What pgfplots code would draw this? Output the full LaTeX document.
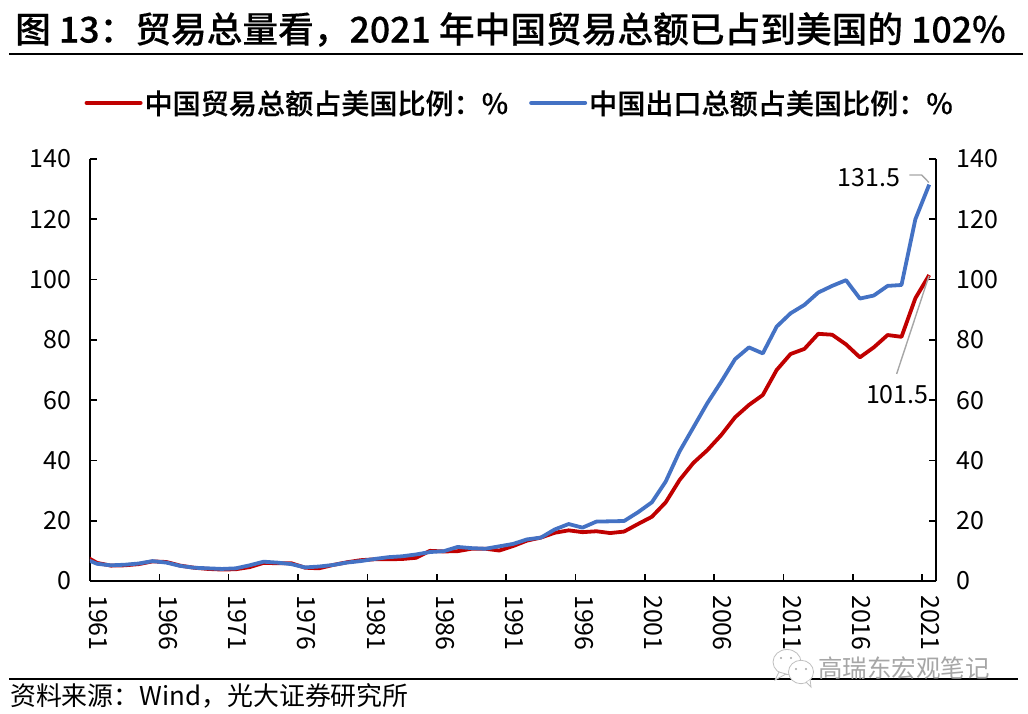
\documentclass[border=0pt]{standalone}
\usepackage{fontspec}
\usepackage{pgfplots}
\usepackage{pgfplotstable}
\pgfplotsset{compat=1.18}
\setmainfont{Noto Sans CJK SC}
\newfontfamily\medfont[FakeBold=0.3]{Noto Sans CJK SC Medium}
\definecolor{cnred}{HTML}{C00000}
\definecolor{cnblue}{HTML}{4472C4}
\definecolor{leader}{HTML}{A6A6A6}

% share of US, percent
\pgfplotstableread{
year trade export
1961 8.6 7.6
1962 6.0 5.7
1963 5.1 5.2
1964 5.2 5.4
1965 5.6 5.8
1966 6.5 6.6
1967 6.3 6.1
1968 5.1 5.0
1969 4.4 4.4
1970 4.0 4.2
1971 3.8 4.0
1972 3.9 4.2
1973 4.6 5.2
1974 6.0 6.4
1975 5.9 6.1
1976 5.9 5.6
1977 4.4 4.5
1978 4.2 4.8
1979 5.3 5.3
1980 6.2 6.1
1981 6.9 6.6
1982 7.2 7.3
1983 7.2 7.9
1984 7.3 8.2
1985 7.7 8.8
1986 10.0 9.6
1987 9.8 9.9
1988 9.9 11.3
1989 10.7 10.9
1990 10.7 10.7
1991 10.1 11.5
1992 11.6 12.3
1993 13.4 13.8
1994 14.4 14.4
1995 16.0 17.1
1996 16.8 18.9
1997 16.2 17.7
1998 16.5 19.7
1999 15.9 19.8
2000 16.4 19.9
2001 18.9 22.8
2002 21.3 26.1
2003 26.1 33.0
2004 33.5 43.0
2005 39.2 51.0
2006 43.4 59.0
2007 48.4 66.1
2008 54.3 73.6
2009 58.4 77.5
2010 61.7 75.5
2011 70.0 84.4
2012 75.3 88.8
2013 77.0 91.6
2014 82.0 95.7
2015 81.7 97.9
2016 78.5 99.8
2017 74.2 93.7
2018 77.5 94.7
2019 81.6 97.9
2020 81.0 98.2
2021 93.8 120.0
2022 101.5 131.5
}\sharetable

\pgfplotsset{
  common/.style={
    at={(90pt,133pt)}, anchor=south west,
    scale only axis, width=846.3pt, height=422pt,
    xmin=1961.49, xmax=2022.51,
    ymin=0, ymax=140, ytick={0,20,...,140},
    tick align=inside, major tick length=7pt,
    axis line style={black, line width=1.8pt},
    tick style={black, line width=1.6pt},
    /pgf/number format/assume math mode=true,
    tick label style={font=\fontsize{25}{30}\selectfont},
  }
}

\begin{document}
\begin{tikzpicture}[x=1pt,y=1pt]
\path (0,0) rectangle (1028,714);

% title and rules
\node[anchor=west, inner sep=0pt, font=\fontsize{35.7}{40}\medfont] at (15,684.5) {图 13：贸易总量看，2021 年中国贸易总额已占到美国的 102\%};
\draw[black, line width=2pt] (9,659.5) -- (1023,659.5);
\draw[black, line width=2pt] (9,35.3) -- (1018,35.3);
\node[anchor=west, inner sep=0pt, font=\fontsize{25.9}{30}\selectfont] at (10,18) {资料来源：Wind，光大证券研究所};

\begin{axis}[
    common,
    axis y line*=left, axis x line*=bottom,
    xtick={1961.49,1966.49,...,2022},
    xticklabels={1961,1966,1971,1976,1981,1986,1991,1996,2001,2006,2011,2016,2021},
    xticklabel style={rotate=-90, anchor=west, xshift=14pt, yshift=8.6pt, inner sep=0pt},
    yticklabel style={xshift=-15pt},
    legend columns=2,
    legend style={
      at={(0.5077,1.133)}, anchor=center, draw=none, fill=none,
      font=\fontsize{28.1}{32}\medfont,
      /tikz/every even column/.append style={column sep=19pt},
      inner sep=0pt,
    },
    legend cell align=left,
    legend image code/.code={
      \draw[#1, line width=4pt, line cap=round] (0pt,0pt) -- (54pt,0pt);
    },
]
\addplot[cnred, line width=3.8pt, line join=round] table[x=year, y=trade] {\sharetable};
\addlegendentry{中国贸易总额占美国比例：\%}
\addplot[cnblue, line width=3.8pt, line join=round] table[x=year, y=export] {\sharetable};
\addlegendentry{中国出口总额占美国比例：\%}

\draw[leader, line width=1.4pt] (axis cs:2020.56,134.7) -- (axis cs:2021.45,134.7) -- (axis cs:2021.98,132.2);
\draw[leader, line width=1.4pt] (axis cs:2019.65,68.7) -- (axis cs:2021.98,101.2);
\node[inner sep=0pt, anchor=east, font=\fontsize{25}{30}\selectfont] at (axis cs:2019.9,133.9) {131.5};
\node[inner sep=0pt, anchor=east, font=\fontsize{25}{30}\selectfont] at (axis cs:2021.96,61.8) {101.5};
\end{axis}

\begin{axis}[
    common,
    axis y line*=right, hide x axis,
    yticklabel style={xshift=17pt},
]
\end{axis}

% watermark
\begin{scope}[draw=black!25, line width=0.8pt, fill=white]
\filldraw (787,52) ellipse (14 and 12.5);
\filldraw (779,42) -- (775,34) -- (786,40) -- cycle;
\filldraw (801,42) ellipse (12.5 and 11.7);
\filldraw (806,32) -- (811,27) -- (810,35) -- cycle;
\fill[white] (801,42) ellipse (11.5 and 10.7);
\fill[black!35] (781,56) circle (1.1) (791,56) circle (1.1) (796,45) circle (1.1) (806,45) circle (1.1);
\end{scope}
\node[anchor=west, inner sep=0pt, text=gray!70, font=\fontsize{24.5}{28}\selectfont] at (818,46) {高瑞东宏观笔记};
\end{tikzpicture}
\end{document}
